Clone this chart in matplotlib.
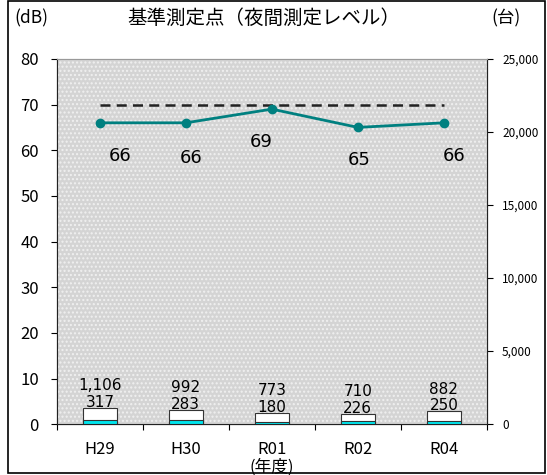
import matplotlib.pyplot as plt
import matplotlib.patches as patches
import numpy as np

plt.rcParams['font.family'] = ['Noto Sans CJK JP', 'DejaVu Sans']

years = ["H29", "H30", "R01", "R02", "R04"]
level = [66, 66, 69, 65, 66]
limit = [70, 70, 70, 70, 70]
total_cars = [1106, 992, 773, 710, 882]
large_cars = [317, 283, 180, 226, 250]
total_labels = ["1,106", "992", "773", "710", "882"]

x = np.arange(len(years))

fig = plt.figure(figsize=(5.47, 4.75), dpi=100)
ax = fig.add_axes([0.104, 0.107, 0.786, 0.769])
ax.set_facecolor("#d4d4d4")
ax.patch.set_hatch("....")
ax.patch.set_edgecolor("#f0f0f0")
ax.patch.set_linewidth(0)

ax2 = ax.twinx()
ax.set_zorder(ax2.get_zorder() + 1)
ax.patch.set_visible(True)

# bars belong to the right axis (vehicle counts)
ax2.set_ylim(0, 25000)
ax2.set_yticks(np.arange(0, 25001, 5000))
ax2.set_yticklabels(["0", "5,000", "10,000", "15,000", "20,000", "25,000"], fontsize=8.5)
ax2.tick_params(axis="y", length=4, pad=7)

scale = 80 / 25000
ax.bar(x, np.array(total_cars) * scale, width=0.4, color="white", edgecolor="#333333", linewidth=0.8, zorder=2)
ax.bar(x, np.array(large_cars) * scale, width=0.4, color="#00e5ee", edgecolor="#333333", linewidth=0.8, zorder=3)
for i in x:
    ax.text(i, total_cars[i] * scale + 3.2, total_labels[i], ha="center", va="bottom", fontsize=11, family="DejaVu Sans", zorder=5)
    ax.text(i, total_cars[i] * scale - 0.4, str(large_cars[i]), ha="center", va="bottom", fontsize=11, family="DejaVu Sans", zorder=5)

ax.plot(x, limit, linestyle="--", color="#222222", linewidth=1.8, dashes=(4, 2.5), zorder=4)
ax.plot(x, level, color="#008080", linewidth=2, marker="o", markersize=6, zorder=4)
label_dx = [0.24, 0.06, -0.12, 0.02, 0.12]
label_dy = [-7.3, -7.6, -7.3, -7.2, -7.3]
for i in x:
    ax.text(i + label_dx[i], level[i] + label_dy[i], str(level[i]), ha="center", va="center",
            fontsize=13, family="DejaVu Sans", zorder=5)

ax.set_xlim(-0.5, 4.5)
ax.set_ylim(0, 80)
ax.set_yticks(np.arange(0, 81, 10))
ax.tick_params(axis="y", labelsize=12, length=4, pad=9)
ax.set_xticks(np.arange(-0.5, 4.6, 1), minor=False)
ax.set_xticklabels([])
ax.tick_params(axis="x", length=4)
ax.set_xticks(x, minor=True)
ax.set_xticklabels(years, minor=True, fontsize=12)
ax.tick_params(axis="x", which="minor", length=0, pad=12)

for s in ["left", "bottom", "right"]:
    ax.spines[s].set_color("#222222")
ax.spines["top"].set_color("#999999")
ax2.spines["top"].set_color("#999999")

fig.text(0.058, 0.962, "(dB)", fontsize=12.5, ha="center", va="center")
fig.text(0.925, 0.962, "(台)", fontsize=12.5, ha="center", va="center")
fig.text(0.482, 0.962, "基準測定点（夜間測定レベル）", fontsize=14, ha="center", va="center")
fig.text(0.497, 0.016, "(年度)", fontsize=12, ha="center", va="center")

fig.patches.append(patches.Rectangle((0.015, 0.004), 0.982, 0.993, transform=fig.transFigure,
                                     fill=False, edgecolor="black", linewidth=1.2))

plt.savefig("out.png", dpi=100)
